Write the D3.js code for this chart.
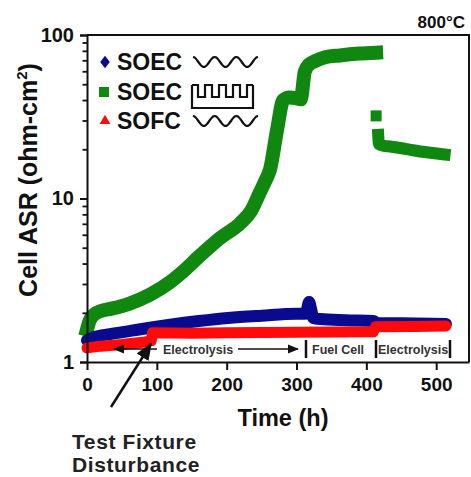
<!DOCTYPE html>
<html>
<head>
<meta charset="utf-8">
<script src="https://cdn.jsdelivr.net/npm/d3@7"></script>
<style>
  html, body { margin: 0; padding: 0; background: #fff; }
  svg { display: block; font-family: Arial, "Liberation Sans", Helvetica, sans-serif; }
</style>
</head>
<body>
<svg id="chart" width="471" height="477"></svg>
<script>
// ---------- data ----------
const xTicks = [0, 100, 200, 300, 400, 500];
const yMajorTicks = [1, 10, 100];
const yMinorTicks = [2,3,4,5,6,7,8,9,20,30,40,50,60,70,80,90];

// SOEC, square-wave (green) : [time h, ASR ohm-cm2]
const soecSquareA = [[0,1.58],[4,1.8],[10,1.95],[20,2.05],[35,2.12],[60,2.27],[90,2.58],[120,3.1],[135,3.5],
  [160,4.4],[190,5.7],[220,7.1],[235,8.4],[248,11],[256,13],[262,15],[272,26],[281,40],[290,41.5],
  [300,41],[306,40.5],[312,60],[318,66],[326,69],[341,73],[362,75],[390,77],[414,78]];
const soecSquareB = [[414,32]];
const soecSquareC = [[417,24.5],[418,21.5],[425,21],[434,20.8],[477,19.4],[512,18.6]];

// SOEC, sine-wave (blue)
const soecSine = [[0,1.36],[10,1.42],[33,1.48],[62,1.55],[90,1.62],[119,1.69],[160,1.78],[202,1.86],
  [250,1.92],[300,1.97],[312,1.97],[315,2.1],[318,2.33],[321,2.1],[324,1.86],[334,1.83],[370,1.8],
  [410,1.78],[416,1.73],[470,1.72],[514,1.71]];

// SOFC, sine-wave (red)
const sofcSine = [[0,1.22],[20,1.25],[50,1.28],[80,1.32],[92,1.35],[94,1.51],[150,1.5],[200,1.51],
  [300,1.52],[410,1.53],[413,1.64],[470,1.65],[514,1.66]];

const legendLabels = ["SOEC", "SOEC", "SOFC"];
const colors = { blue: "#0a0a8f", green: "#10870f", red: "#ff0a0a" };

// ---------- layout ----------
const svg = d3.select("#chart");
const x = d3.scaleLinear().domain([0, 547]).range([87, 469]);
const y = d3.scaleLog().domain([1, 100]).range([362, 35]);

// frame (top & right)
svg.append("path")
  .attr("d", `M${x(0)},${y(100)}H${x(547)}V${y(1)}`)
  .attr("fill", "none").attr("stroke", "#111").attr("stroke-width", 2);

// data lines
function band(data, color, w, cap, curve) {
  const line = d3.line().x(d => x(d[0])).y(d => y(d[1])).curve(curve || d3.curveLinear);
  svg.append("path").datum(data).attr("d", line)
    .attr("fill", "none").attr("stroke", color).attr("stroke-width", w)
    .attr("stroke-linejoin", "round").attr("stroke-linecap", cap);
}
band(soecSquareA, colors.green, 14, "square", d3.curveMonotoneX);
svg.selectAll(".gB").data(soecSquareB).enter().append("rect")
  .attr("x", d => x(d[0]) - 5.5).attr("y", d => y(d[1]) - 5.5)
  .attr("width", 11).attr("height", 11).attr("fill", colors.green);
band(soecSquareC, colors.green, 12, "square", d3.curveMonotoneX);
band(soecSine, colors.blue, 12, "round", d3.curveMonotoneX);
band(sofcSine, colors.red, 11, "round");

// axes
const yAxisMajor = d3.axisLeft(y).tickValues(yMajorTicks).tickSize(7).tickPadding(6)
  .tickFormat(d3.format("d"));
const gy = svg.append("g").attr("transform", `translate(${x(0)},0)`).call(yAxisMajor);
gy.select(".domain").attr("stroke", "#111").attr("stroke-width", 2);
gy.selectAll(".tick line").attr("stroke", "#111").attr("stroke-width", 2);
gy.selectAll(".tick text").attr("font-size", 20).attr("font-weight", "bold").attr("fill", "#111")
  .attr("font-family", "Arial, 'Liberation Sans', sans-serif");

const yAxisMinor = d3.axisLeft(y).tickValues(yMinorTicks).tickSize(4.5).tickFormat("");
const gym = svg.append("g").attr("transform", `translate(${x(0)},0)`).call(yAxisMinor);
gym.select(".domain").remove();
gym.selectAll(".tick line").attr("stroke", "#111").attr("stroke-width", 1.8);

const xAxis = d3.axisBottom(x).tickValues(xTicks).tickSize(8).tickPadding(8).tickSizeOuter(0);
const gx = svg.append("g").attr("transform", `translate(0,${y(1)})`).call(xAxis);
gx.select(".domain").attr("stroke", "#111").attr("stroke-width", 2);
gx.selectAll(".tick line").attr("stroke", "#111").attr("stroke-width", 2);
gx.selectAll(".tick text").attr("font-size", 19).attr("font-weight", "bold").attr("fill", "#111")
  .attr("font-family", "Arial, 'Liberation Sans', sans-serif");

// axis titles
svg.append("text").attr("x", 283).attr("y", 426).attr("text-anchor", "middle")
  .attr("font-size", 23.5).attr("font-weight", "bold").attr("fill", "#111").text("Time (h)");

const yt = svg.append("text").attr("transform", "translate(37,180) rotate(-90)")
  .attr("text-anchor", "middle").attr("font-size", 25).attr("font-weight", "bold").attr("fill", "#111");
yt.append("tspan").text("Cell ASR (ohm-cm");
yt.append("tspan").attr("font-size", 15).attr("dy", -10).text("2");
yt.append("tspan").attr("dy", 10).text(")");

// temperature
svg.append("text").attr("x", 465).attr("y", 28).attr("text-anchor", "end")
  .attr("font-size", 17).attr("font-weight", "bold").attr("fill", "#111").text("800°C");

// legend
const legY = [62, 92, 121];
const lg = svg.append("g");
lg.append("path").attr("d", d3.symbol().type(d3.symbolDiamond).size(60)())
  .attr("transform", `translate(105,${legY[0]}) scale(1.15,0.85)`).attr("fill", colors.blue);
lg.append("rect").attr("x", 99).attr("y", legY[1] - 5).attr("width", 10).attr("height", 10).attr("fill", colors.green);
lg.append("path").attr("d", d3.symbol().type(d3.symbolTriangle).size(50)())
  .attr("transform", `translate(105,${legY[2]})`).attr("fill", colors.red);
legendLabels.forEach((t, i) => {
  lg.append("text").attr("x", 117).attr("y", legY[i]).attr("dy", "0.36em")
    .attr("font-size", 23).attr("font-weight", "bold").attr("fill", "#111").text(t);
});
function wave(cy) {
  const pts = d3.range(0, 61).map(i => [193 + i * 65 / 60, cy + 5 * Math.cos(i / 60 * 3 * 2 * Math.PI + Math.PI)]);
  lg.append("path").attr("d", d3.line().curve(d3.curveBasis)(pts))
    .attr("fill", "none").attr("stroke", "#111").attr("stroke-width", 2.2);
}
wave(legY[0]);
wave(legY[2]);
lg.append("path")
  .attr("d", "M192,85V108H253V85 M192,85H198V97H205V85H212V97H219V85H226V97H233V85H240V97H247V85H253")
  .attr("fill", "none").attr("stroke", "#111").attr("stroke-width", 2.2);

// operating-mode annotations
const ann = svg.append("g");
const ay = 349;
ann.append("defs").append("marker").attr("id", "ah").attr("viewBox", "0 0 10 10")
  .attr("refX", 9).attr("refY", 5).attr("markerWidth", 7).attr("markerHeight", 7)
  .attr("orient", "auto-start-reverse")
  .append("path").attr("d", "M0,1L10,5L0,9Z").attr("fill", "#111");
ann.append("line").attr("x1", 157).attr("y1", ay).attr("x2", 114).attr("y2", ay)
  .attr("stroke", "#111").attr("stroke-width", 1.6).attr("marker-end", "url(#ah)");
ann.append("line").attr("x1", 238).attr("y1", ay).attr("x2", 298).attr("y2", ay)
  .attr("stroke", "#111").attr("stroke-width", 1.6).attr("marker-end", "url(#ah)");
[[163, "Electrolysis"], [312, "Fuel Cell"], [378, "Electrolysis"]].forEach(d => {
  ann.append("text").attr("x", d[0]).attr("y", ay).attr("dy", "0.36em")
    .attr("font-size", 12.5).attr("font-weight", "bold").attr("fill", "#333").text(d[1]);
});
[306, 376, 450].forEach(bx => {
  ann.append("line").attr("x1", bx).attr("x2", bx).attr("y1", 340).attr("y2", 358)
    .attr("stroke", "#111").attr("stroke-width", 2.5);
});

// test fixture disturbance
ann.append("line").attr("x1", 111).attr("y1", 407).attr("x2", 151).attr("y2", 344)
  .attr("stroke", "#111").attr("stroke-width", 2.5).attr("marker-end", "url(#ah)");
svg.append("text").attr("x", 72).attr("y", 449).attr("font-size", 21).attr("font-weight", "bold")
  .attr("letter-spacing", 0.6).attr("fill", "#222").text("Test Fixture");
svg.append("text").attr("x", 72).attr("y", 472).attr("font-size", 21).attr("font-weight", "bold")
  .attr("letter-spacing", 0.6).attr("fill", "#222").text("Disturbance");
</script>
</body>
</html>
